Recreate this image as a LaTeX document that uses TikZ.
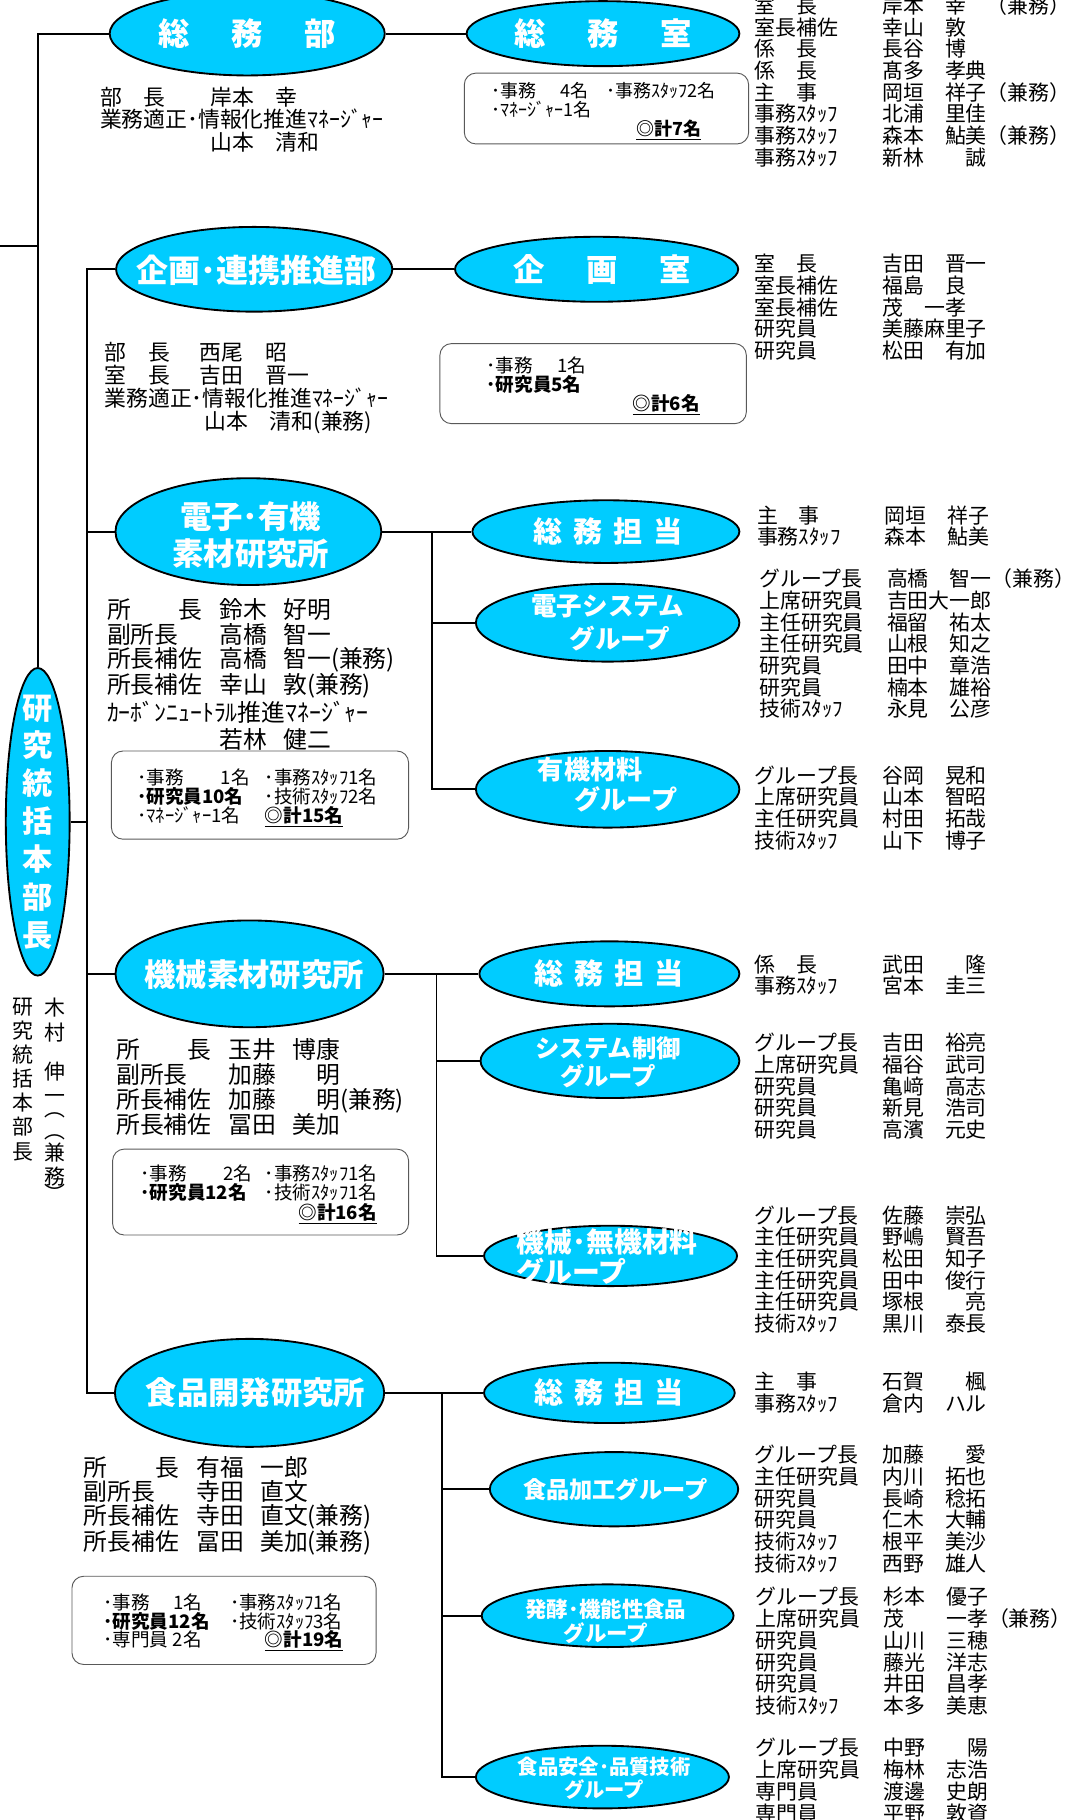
\documentclass[tikz,border=0pt]{standalone}
\usepackage{fontspec}
\setmainfont{Noto Sans CJK JP}
\usetikzlibrary{shapes.geometric}
\definecolor{unitblue}{RGB}{0,204,255}
\newcommand{\staff}[4][]{\makebox[110pt][l]{#2}\makebox[54pt][l]{#3}\makebox[36pt][l]{#4}#1}
\newcommand{\officer}[4][]{\makebox[97pt][l]{#2}\makebox[55pt][l]{#3}#4#1}

\begin{document}
\begin{tikzpicture}[x=1pt, y=-1pt,
  unitell/.style={ellipse, draw, line width=1.6pt, fill=unitblue, inner sep=0pt},
  unitlabel/.style={text=white, align=center, inner sep=0pt, font=\bfseries\fontsize{27}{32}\selectfont},
  conn/.style={line width=1.6pt},
  sumbox/.style={draw=black!65, line width=0.8pt, rounded corners=10pt, inner sep=0pt},
  sumtext/.style={anchor=north west, align=left, inner sep=0pt, font=\fontsize{16}{16.5}\selectfont},
  roster/.style={anchor=north west, align=left, inner sep=0pt, font=\fontsize{18}{18.7}\selectfont},
  info/.style={anchor=north west, align=left, inner sep=0pt, font=\fontsize{20.5}{20.8}\selectfont}]

  \useasboundingbox (0,0) rectangle (925,1568);

  % Head of research

  \node[unitell, minimum width=55pt, minimum height=265pt] (kenkyu) at (32.5,708) {};
  \node[unitlabel, font=\bfseries\fontsize{26}{32.6}\selectfont] (kenkyu-t) at (kenkyu)
    {研\\究\\統\\括\\本\\部\\長};
  \node[anchor=north, align=center, inner sep=0pt, font=\fontsize{18}{20.7}\selectfont]
    (honbucho-title) at (20,860) {研\\究\\統\\括\\本\\部\\長};
  \node[anchor=north, align=center, inner sep=0pt, font=\fontsize{18}{20.7}\selectfont]
    (honbucho-name) at (47,860) {木\\村\\[13pt]伸\\一\\[-9pt]︵\\[-2pt]︵\\[-2pt]兼\\務\\[-6pt]︶};

  % General affairs

  \node[unitell, minimum width=237pt, minimum height=72pt] (soumubu) at (213,29) {};
  \node[unitlabel] (soumubu-t) at (soumubu) {総\hspace{36pt}務\hspace{36pt}部};
  \node[unitell, minimum width=235pt, minimum height=56pt] (soumushitsu) at (519.5,29) {};
  \node[unitlabel] (soumushitsu-t) at (soumushitsu) {総\hspace{36pt}務\hspace{36pt}室};

  \node[info, font=\fontsize{18.8}{19.5}\selectfont] (soumubu-info) at (86,74.5) {%
    \makebox[95pt][l]{部　長}岸本　幸\\
    業務適正･情報化推進ﾏﾈｰｼﾞｬｰ\\
    \makebox[95pt][l]{}山本　清和};

  \node[sumbox, minimum width=245pt, minimum height=61pt] (soumushitsu-box) at (522.5,93.5) {};
  \node[sumtext, font=\fontsize{15.5}{16.3}\selectfont] (soumushitsu-sum) at (423,71) {%
    \makebox[99pt][l]{･事務\hspace{21pt}4名}･事務ｽﾀｯﾌ2名\\
    ･ﾏﾈｰｼﾞｬｰ1名\\
    \hspace*{125pt}\textbf{\underline{◎計7名}}};

  \node[roster] (soumushitsu-list) at (650,-4.1) {%
    \staff[（兼務）]{室　長}{岸本}{幸}\\
    \staff{室長補佐}{幸山}{敦}\\
    \staff{係　長}{長谷}{博}\\
    \staff{係　長}{髙多}{孝典}\\
    \staff[（兼務）]{主　事}{岡垣}{祥子}\\
    \staff{事務ｽﾀｯﾌ}{北浦}{里佳}\\
    \staff[（兼務）]{事務ｽﾀｯﾌ}{森本}{鮎美}\\
    \staff{事務ｽﾀｯﾌ}{新林}{　誠}};

  % Planning

  \node[unitell, minimum width=238pt, minimum height=73pt] (kikakubu) at (219,232) {};
  \node[unitlabel, font=\bfseries\fontsize{27.5}{32}\selectfont] (kikakubu-t) at (221,233) {企画･連携推進部};
  \node[unitell, minimum width=244pt, minimum height=56pt] (kikakushitsu) at (514,232) {};
  \node[unitlabel] (kikakushitsu-t) at ([xshift=5pt]kikakushitsu.center) {企\hspace{36pt}画\hspace{36pt}室};

  \node[info, font=\fontsize{18.8}{20}\selectfont] (kikakubu-info) at (90,294.5) {%
    \makebox[82pt][l]{部　長}西尾　昭\\
    \makebox[82pt][l]{室　長}吉田　晋一\\
    業務適正･情報化推進ﾏﾈｰｼﾞｬｰ\\
    \makebox[86pt][l]{}山本　清和(兼務)};

  \node[sumbox, minimum width=264pt, minimum height=69pt] (kikaku-box) at (511,330.5) {};
  \node[sumtext] (kikaku-sum) at (419,307) {%
    ･事務\hspace{21pt}1名\\
    \textbf{･研究員5名}\\
    \hspace*{126pt}\textbf{\underline{◎計6名}}};

  \node[roster] (kikaku-list) at (650,218.9) {%
    \staff{室　長}{吉田}{晋一}\\
    \staff{室長補佐}{福島}{良}\\
    \staff{室長補佐}{茂　一孝}{}\\
    \staff{研究員}{美藤麻里子}{}\\
    \staff{研究員}{松田}{有加}};

  % Electronics and organic materials

  \node[unitell, minimum width=229pt, minimum height=92pt] (denshi) at (214,458) {};
  \node[unitlabel] (denshi-t) at (216,461) {電子･有機\\素材研究所};
  \node[unitell, minimum width=230pt, minimum height=54pt] (denshi-soumu) at (522,458) {};
  \node[unitlabel, font=\bfseries\fontsize{25}{30}\selectfont] (denshi-soumu-t) at ([xshift=2pt]denshi-soumu.center)
    {総\hspace{9.5pt}務\hspace{9.5pt}担\hspace{9.5pt}当};
  \node[unitell, minimum width=227pt, minimum height=67pt] (denshi-sys) at (523.5,536.5) {};
  \node[unitlabel, font=\bfseries\fontsize{22}{29}\selectfont] (denshi-sys-t) at (523.5,536.5)
    {電子システム\\\hspace*{21pt}グループ};
  \node[unitell, minimum width=227pt, minimum height=66pt] (yuki) at (523.5,680) {};
  \node[unitlabel, font=\bfseries\fontsize{22.5}{26}\selectfont] (yuki-t) at (524,676)
    {有機材料\hspace*{31pt}\\\hspace*{31pt}グループ};

  \node[info] (denshi-info) at (92,515.8) {%
    \officer{所　　長}{鈴木}{好明}\\
    \officer{副所長}{高橋}{智一}\\
    \officer[(兼務)]{所長補佐}{高橋}{智一}\\
    \officer[(兼務)]{所長補佐}{幸山}{敦}\\[2.2pt]
    ｶｰﾎﾞﾝﾆｭｰﾄﾗﾙ推進ﾏﾈｰｼﾞｬｰ\\[2.2pt]
    \officer{}{若林}{健二}};

  \node[sumbox, minimum width=256pt, minimum height=76pt] (denshi-box) at (224,685) {};
  \node[sumtext] (denshi-sum) at (118,662) {%
    \makebox[110pt][l]{･事務\hspace{32pt}1名}･事務ｽﾀｯﾌ1名\\
    \makebox[110pt][l]{\textbf{･研究員10名}}･技術ｽﾀｯﾌ2名\\
    \makebox[110pt][l]{･ﾏﾈｰｼﾞｬｰ1名}\textbf{\underline{◎計15名}}};

  \node[roster] (denshi-soumu-list) at (652,435.5) {%
    \staff{主　事}{岡垣}{祥子}\\
    \staff{事務ｽﾀｯﾌ}{森本}{鮎美}};
  \node[roster] (denshi-sys-list) at (654,489.9) {%
    \staff[（兼務）]{グループ長}{高橋}{智一}\\
    \staff{上席研究員}{吉田大一郎}{}\\
    \staff{主任研究員}{福留}{祐太}\\
    \staff{主任研究員}{山根}{知之}\\
    \staff{研究員}{田中}{章浩}\\
    \staff{研究員}{楠本}{雄裕}\\
    \staff{技術ｽﾀｯﾌ}{永見}{公彦}};
  \node[roster] (yuki-list) at (650,659.4) {%
    \staff{グループ長}{谷岡}{晃和}\\
    \staff{上席研究員}{山本}{智昭}\\
    \staff{主任研究員}{村田}{拓哉}\\
    \staff{技術ｽﾀｯﾌ}{山下}{博子}};

  % Mechanical materials

  \node[unitell, minimum width=231pt, minimum height=92pt] (kikai) at (215,839) {};
  \node[unitlabel] (kikai-t) at (219,840) {機械素材研究所};
  \node[unitell, minimum width=224pt, minimum height=56pt] (kikai-soumu) at (525,839) {};
  \node[unitlabel, font=\bfseries\fontsize{25}{30}\selectfont] (kikai-soumu-t) at (kikai-soumu)
    {総\hspace{9.5pt}務\hspace{9.5pt}担\hspace{9.5pt}当};
  \node[unitell, minimum width=223pt, minimum height=64pt] (seigyo) at (525.5,914) {};
  \node[unitlabel, font=\bfseries\fontsize{21}{24.6}\selectfont] (seigyo-t) at (524,915)
    {システム制御\\グループ};
  \node[unitell, minimum width=218pt, minimum height=52pt] (muki) at (526,1082) {};
  \node[unitlabel, anchor=west, align=left, font=\bfseries\fontsize{24}{25.6}\selectfont] (muki-t) at (445,1083)
    {機械･無機材料\\グループ};

  \node[info, font=\fontsize{20.5}{21.2}\selectfont] (kikai-info) at (100,894.8) {%
    \officer{所　　長}{玉井}{博康}\\
    \officer{副所長}{加藤}{　明}\\
    \officer[(兼務)]{所長補佐}{加藤}{　明}\\
    \officer{所長補佐}{冨田}{美加}};

  \node[sumbox, minimum width=255pt, minimum height=74pt] (kikai-box) at (224.5,1027) {};
  \node[sumtext, font=\fontsize{16}{17}\selectfont] (kikai-sum) at (121,1003) {%
    \makebox[107pt][l]{･事務\hspace{31pt}2名}･事務ｽﾀｯﾌ1名\\
    \makebox[107pt][l]{\textbf{･研究員12名}}･技術ｽﾀｯﾌ1名\\
    \hspace*{136pt}\textbf{\underline{◎計16名}}};

  \node[roster, font=\fontsize{18}{17.5}\selectfont] (kikai-soumu-list) at (650,822.9) {%
    \staff{係　長}{武田}{　隆}\\
    \staff{事務ｽﾀｯﾌ}{宮本}{圭三}};
  \node[roster] (seigyo-list) at (650,889.9) {%
    \staff{グループ長}{吉田}{裕亮}\\
    \staff{上席研究員}{福谷}{武司}\\
    \staff{研究員}{亀﨑}{高志}\\
    \staff{研究員}{新見}{浩司}\\
    \staff{研究員}{高濱}{元史}};
  \node[roster] (muki-list) at (650,1038.4) {%
    \staff{グループ長}{佐藤}{崇弘}\\
    \staff{主任研究員}{野嶋}{賢吾}\\
    \staff{主任研究員}{松田}{知子}\\
    \staff{主任研究員}{田中}{俊行}\\
    \staff{主任研究員}{塚根}{　亮}\\
    \staff{技術ｽﾀｯﾌ}{黒川}{泰長}};

  % Food development

  \node[unitell, minimum width=232pt, minimum height=93pt] (shokuhin) at (215,1200) {};
  \node[unitlabel] (shokuhin-t) at (220,1200) {食品開発研究所};
  \node[unitell, minimum width=216pt, minimum height=52pt] (shokuhin-soumu) at (525,1200) {};
  \node[unitlabel, font=\bfseries\fontsize{25}{30}\selectfont] (shokuhin-soumu-t) at (shokuhin-soumu)
    {総\hspace{9.5pt}務\hspace{9.5pt}担\hspace{9.5pt}当};
  \node[unitell, minimum width=214pt, minimum height=64pt] (kakou) at (529,1283) {};
  \node[unitlabel, font=\bfseries\fontsize{20}{24}\selectfont] (kakou-t) at (530,1283) {食品加工グループ};
  \node[unitell, minimum width=217pt, minimum height=54pt] (hakko) at (523.5,1392) {};
  \node[unitlabel, font=\bfseries\fontsize{18.5}{21}\selectfont] (hakko-t) at (522,1397)
    {発酵･機能性食品\\グループ};
  \node[unitell, minimum width=218pt, minimum height=54pt] (anzen) at (519,1531) {};
  \node[unitlabel, font=\bfseries\fontsize{17.5}{20}\selectfont] (anzen-t) at (520.5,1532)
    {食品安全･品質技術\\グループ};

  \node[info] (shokuhin-info) at (72,1254.3) {%
    \officer{所　　長}{有福}{一郎}\\
    \officer{副所長}{寺田}{直文}\\
    \officer[(兼務)]{所長補佐}{寺田}{直文}\\
    \officer[(兼務)]{所長補佐}{冨田}{美加}};

  \node[sumbox, minimum width=262pt, minimum height=76pt] (shokuhin-box) at (193,1396) {};
  \node[sumtext, font=\fontsize{16}{16}\selectfont] (shokuhin-sum) at (89,1373) {%
    \makebox[109pt][l]{･事務\hspace{20pt}1名}･事務ｽﾀｯﾌ1名\\
    \makebox[109pt][l]{\textbf{･研究員12名}}･技術ｽﾀｯﾌ3名\\
    \makebox[139pt][l]{･専門員 2名}\textbf{\underline{◎計19名}}};

  \node[roster] (shokuhin-soumu-list) at (650,1181.9) {%
    \staff{主　事}{石賀}{　楓}\\
    \staff{事務ｽﾀｯﾌ}{倉内}{ハル}};
  \node[roster] (kakou-list) at (650,1244.9) {%
    \staff{グループ長}{加藤}{　愛}\\
    \staff{主任研究員}{内川}{拓也}\\
    \staff{研究員}{長崎}{稔拓}\\
    \staff{研究員}{仁木}{大輔}\\
    \staff{技術ｽﾀｯﾌ}{根平}{美沙}\\
    \staff{技術ｽﾀｯﾌ}{西野}{雄人}};
  \node[roster] (hakko-list) at (651,1367.4) {%
    \staff{グループ長}{杉本}{優子}\\
    \staff[（兼務）]{上席研究員}{茂}{一孝}\\
    \staff{研究員}{山川}{三穂}\\
    \staff{研究員}{藤光}{洋志}\\
    \staff{研究員}{井田}{昌孝}\\
    \staff{技術ｽﾀｯﾌ}{本多}{美恵}};
  \node[roster] (anzen-list) at (651,1497.5) {%
    \staff{グループ長}{中野}{　陽}\\
    \staff{上席研究員}{梅林}{志浩}\\
    \staff{専門員}{渡邊}{史朗}\\
    \staff{専門員}{平野}{敦資}};

  % Connectors

  \coordinate (edgeW) at (0,212);
  \coordinate (spineB) at (75,0);
  \coordinate (spineC) at (372,0);
  \coordinate (spineD) at (376,0);
  \coordinate (spineE) at (381,0);

  \draw[conn] (soumubu.west) -| (kenkyu.north);
  \draw[conn] (edgeW) -- (edgeW -| kenkyu.north);
  \draw[conn] (soumubu.east) -- (soumushitsu.west);

  \draw[conn] (kikakubu.west) -- (kikakubu.west -| spineB) -- (shokuhin.west -| spineB) -- (shokuhin.west);
  \draw[conn] (denshi.west) -- (denshi.west -| spineB);
  \draw[conn] (kenkyu.east) -- (kenkyu.east -| spineB);
  \draw[conn] (kikai.west) -- (kikai.west -| spineB);
  \draw[conn] (kikakubu.east) -- (kikakushitsu.west);

  \draw[conn] (denshi.east) -- (denshi-soumu.west);
  \draw[conn] (denshi.east -| spineC) -- (yuki.west -| spineC) -- (yuki.west);
  \draw[conn] (denshi-sys.west -| spineC) -- (denshi-sys.west);

  \draw[conn] (kikai.east) -- (kikai-soumu.west);
  \draw[conn] (kikai.east -| spineD) -- (muki.west -| spineD) -- (muki.west);
  \draw[conn] (seigyo.west -| spineD) -- (seigyo.west);

  \draw[conn] (shokuhin.east) -- (shokuhin-soumu.west);
  \draw[conn] (shokuhin.east -| spineE) -- (anzen.west -| spineE) -- (anzen.west);
  \draw[conn] (kakou.west -| spineE) -- (kakou.west);
  \draw[conn] (hakko.west -| spineE) -- (hakko.west);

\end{tikzpicture}
\end{document}
